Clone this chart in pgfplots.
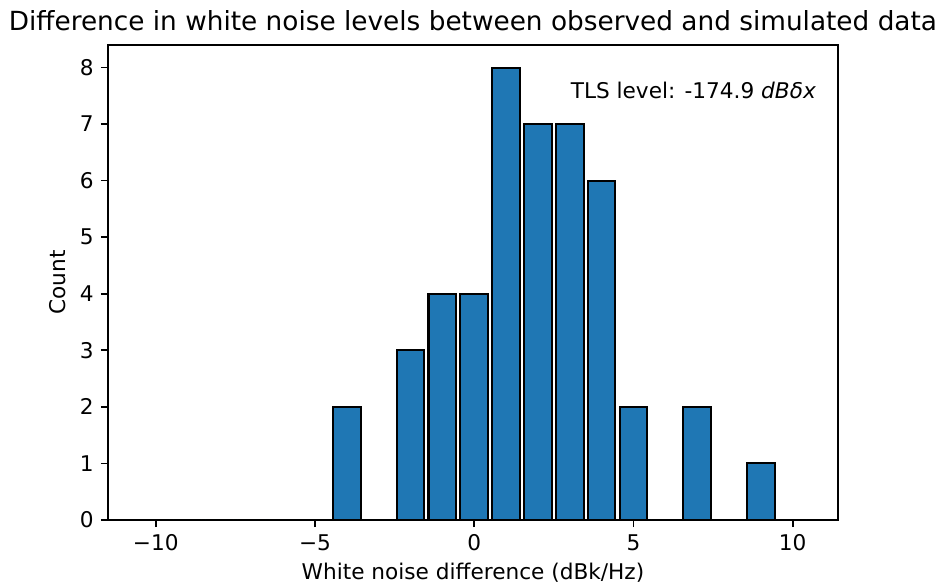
\documentclass[border=0pt]{standalone}
\usepackage{pgfplots}
\pgfplotsset{compat=1.18}
\usepackage{fontspec}
\setmainfont{DejaVu Sans}
\definecolor{mplblue}{HTML}{1F77B4}

\begin{document}
\begin{tikzpicture}[font=\fontsize{10.6}{12.7}\selectfont]
\begin{axis}[
    width=357.7pt, height=232.75pt, scale only axis,
    xmin=-11.5, xmax=11.42, ymin=0, ymax=8.4,
    xtick={-10,-5,0,5,10},
    xticklabels={−10,−5,0,5,10},
    ytick={0,1,...,8},
    tick pos=left, tick align=outside,
    major tick length=3.5pt,
    every tick/.style={black, line width=0.8pt},
    axis line style={line width=0.8pt},
    /pgf/number format/assume math mode=true,
    every axis title shift=0pt,
    title={Difference in white noise levels between observed and simulated data},
    title style={font=\fontsize{12.9}{15}\selectfont, at={(0.5,1)}, anchor=base, yshift=7pt},
    xlabel={White noise difference (dBk/Hz)},
    xlabel style={at={(rel axis cs:0.5,0)}, anchor=base, yshift=-29.4pt},
    ylabel={Count},
]
\addplot[ybar, bar width=0.87, fill=mplblue, draw=black, line width=1pt] coordinates {
    (-10,0) (-9,0) (-8,0) (-7,0) (-6,0) (-5,0)
    (-4,2) (-3,0) (-2,3) (-1,4) (0,4) (1,8) (2,7) (3,7) (4,6)
    (5,2) (6,0) (7,2) (8,0) (9,1) (10,0)
};
\node[anchor=west, inner sep=0pt] at (axis cs:3.02,7.6) {TLS level: -174.9 \textit{dBδx}};
\end{axis}
\pgfresetboundingbox
\path[use as bounding box] (-52.9pt,-32.3pt) rectangle (408.2pt,254.75pt);
\end{tikzpicture}
\end{document}
